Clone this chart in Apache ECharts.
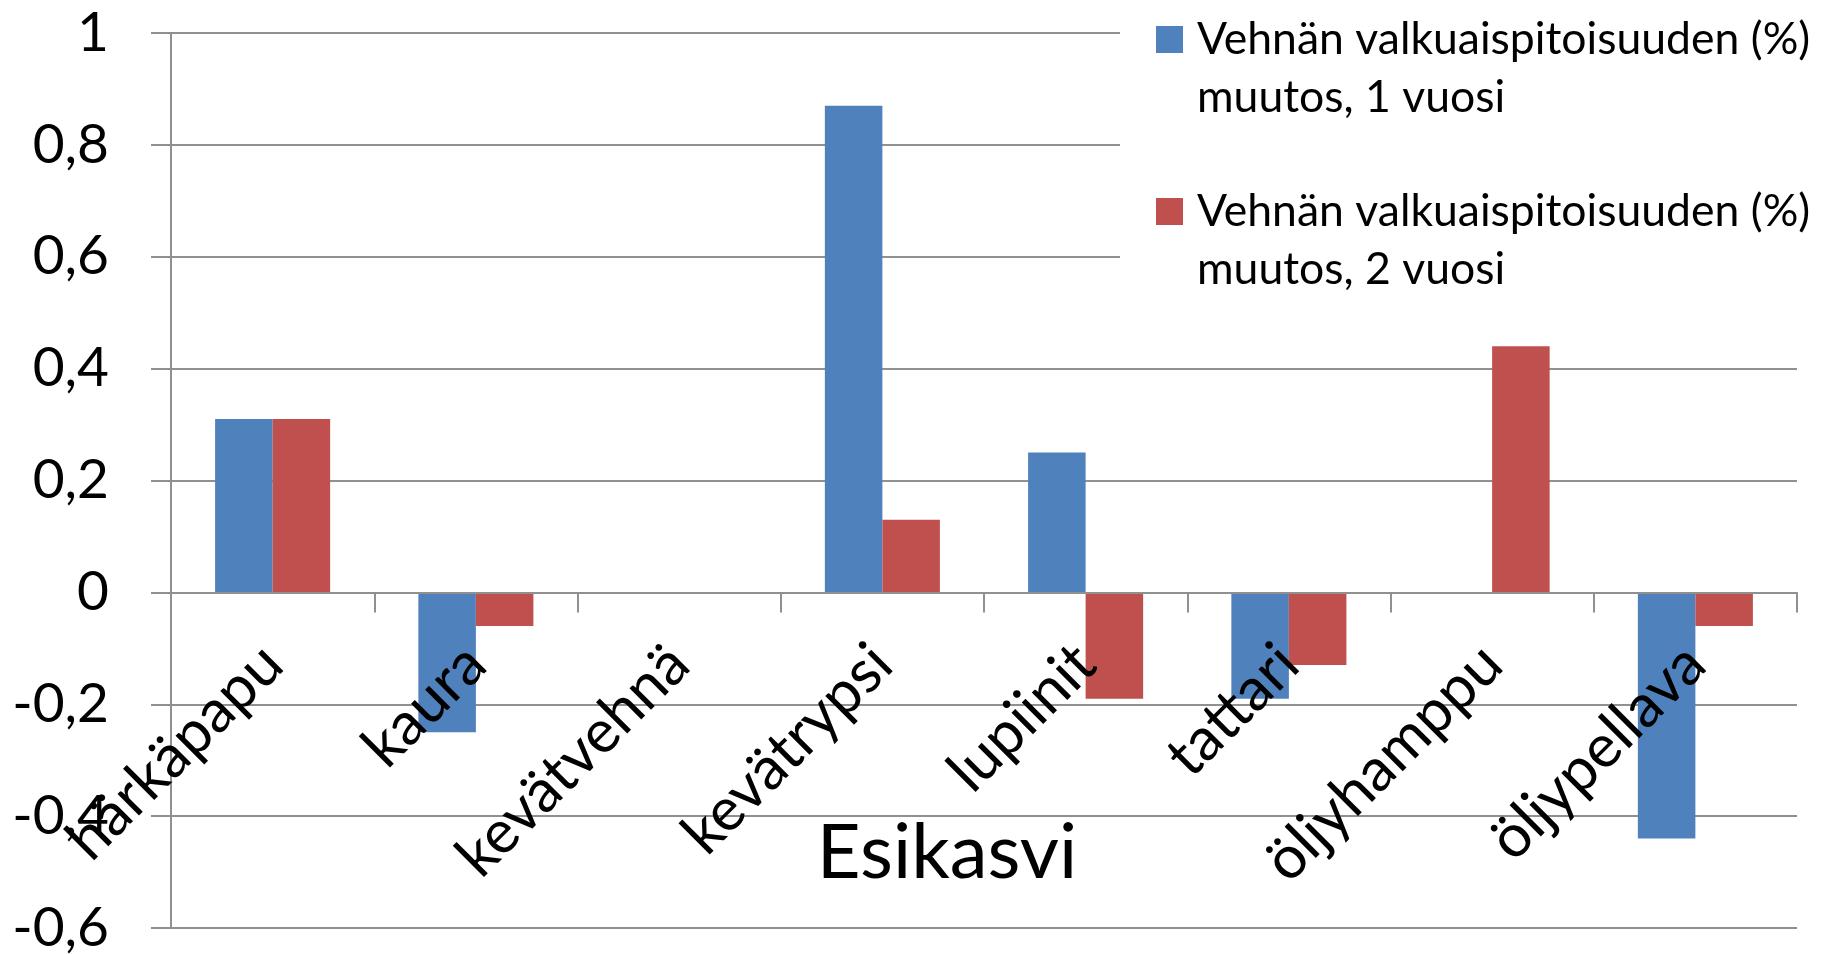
<!DOCTYPE html>
<html>
<head>
<meta charset="utf-8">
<script src="https://cdn.jsdelivr.net/npm/echarts@6/dist/echarts.min.js"></script>
<style>
  html, body { margin: 0; padding: 0; background: #fff; }
  #main { width: 1837px; height: 954px; }
</style>
</head>
<body>
<div id="main"></div>
<script>
// esikasvit (x-akseli)
var categories = ['härkäpapu', 'kaura', 'kevätvehnä', 'kevätrypsi', 'lupiinit', 'tattari', 'öljyhamppu', 'öljypellava'];
// sarjat
var seriesNames = [
  'Vehnän valkuaispitoisuuden (%) muutos, 1 vuosi',
  'Vehnän valkuaispitoisuuden (%) muutos, 2 vuosi'
];
var vuosi1 = [0.31, -0.25, 0, 0.87, 0.25, -0.19, 0, -0.44];
var vuosi2 = [0.31, -0.06, 0, 0.13, -0.19, -0.13, 0.44, -0.06];
// y-akseli
var yMin = -0.6, yMax = 1, yStep = 0.2;

var W = 1837, H = 954;
var gridTop = 33, gridBottom = 26;
// x-akseli nollatasolle: siirto alareunasta ylös
var zeroOffset = (H - gridTop - gridBottom) * (0 - yMin) / (yMax - yMin);

var chart = echarts.init(document.getElementById('main'));
var lineCol = '#909090';
var font = 'Lato';

var option = {
  animation: false,
  backgroundColor: '#fff',
  grid: {
    left: 171, right: 40, top: gridTop, bottom: gridBottom,
    containLabel: false,
    outerBounds: { left: -3000, top: -3000, right: -3000, bottom: -3000 }
  },
  legend: {
    orient: 'vertical',
    left: 1120, top: 0,
    padding: [10.5, 20, 20, 36],
    backgroundColor: '#fff',
    itemWidth: 36, itemHeight: 116, itemGap: 56,
    icon: 'path://M0 0M36 116M0 15.5h27v27h-27z',
    selectedMode: false,
    formatter: function (name) { return name.replace(') ', ')\n'); },
    textStyle: { fontFamily: font, fontSize: 44.5, lineHeight: 58, color: '#000' }
  },
  xAxis: {
    type: 'category',
    data: categories,
    position: 'bottom',
    offset: -zeroOffset,
    z: 5,
    name: 'Esikasvi',
    nameLocation: 'middle',
    nameGap: 223,
    nameMoveOverlap: false,
    nameTextStyle: { fontFamily: font, fontSize: 76, color: '#000', padding: [0, 74, 0, 0] },
    axisLine: { show: true, onZero: false, lineStyle: { color: lineCol, width: 2 } },
    axisTick: { show: true, length: 20, lineStyle: { color: lineCol, width: 2 } },
    axisLabel: {
      show: true, interval: 0, rotate: 45, margin: 62,
      padding: [52, 0, 0, 0],
      hideOverlap: false,
      fontFamily: font, fontSize: 60, color: '#000'
    },
    splitLine: { show: false }
  },
  yAxis: {
    type: 'value',
    min: yMin, max: yMax, interval: yStep,
    axisLine: { show: true, lineStyle: { color: lineCol, width: 2 } },
    axisTick: { show: true, length: 20, lineStyle: { color: lineCol, width: 2 } },
    axisLabel: {
      margin: 62,
      fontFamily: font, fontSize: 55, color: '#000',
      formatter: function (v) { return String(Math.round(v * 10) / 10).replace('.', ','); }
    },
    splitLine: { show: true, lineStyle: { color: lineCol, width: 2 } }
  },
  series: [
    {
      name: seriesNames[0], type: 'bar', data: vuosi1,
      barWidth: '28.3%', barGap: '0%',
      itemStyle: { color: '#4F81BD' }
    },
    {
      name: seriesNames[1], type: 'bar', data: vuosi2,
      barWidth: '28.3%', barGap: '0%',
      itemStyle: { color: '#C0504D' }
    }
  ]
};

chart.setOption(option);
</script>
</body>
</html>
